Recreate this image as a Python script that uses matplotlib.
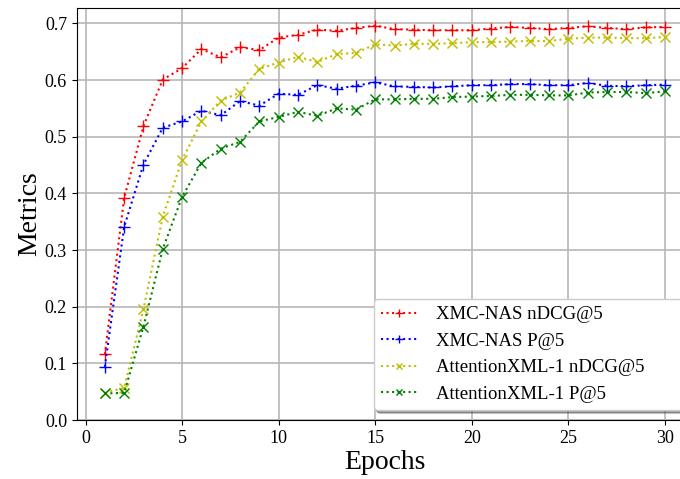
import matplotlib
matplotlib.use('Agg')
import matplotlib.pyplot as plt

# values
epochs = list(range(1, 31))

nas_ndcg = [0.116, 0.392, 0.519, 0.601, 0.621, 0.655, 0.640, 0.658, 0.653, 0.675,
            0.680, 0.689, 0.687, 0.692, 0.696, 0.690, 0.689, 0.688, 0.688, 0.688,
            0.691, 0.694, 0.692, 0.690, 0.692, 0.695, 0.692, 0.690, 0.693, 0.694]
nas_p = [0.094, 0.341, 0.451, 0.516, 0.527, 0.546, 0.538, 0.563, 0.555, 0.576,
         0.574, 0.591, 0.585, 0.590, 0.596, 0.589, 0.588, 0.587, 0.589, 0.591,
         0.591, 0.593, 0.593, 0.591, 0.591, 0.595, 0.590, 0.589, 0.591, 0.592]
attn_ndcg = [0.048, 0.057, 0.196, 0.359, 0.459, 0.527, 0.564, 0.578, 0.620, 0.631,
             0.641, 0.632, 0.646, 0.648, 0.663, 0.661, 0.664, 0.664, 0.665, 0.667,
             0.667, 0.668, 0.669, 0.669, 0.673, 0.675, 0.675, 0.674, 0.674, 0.676]
attn_p = [0.047, 0.048, 0.165, 0.302, 0.394, 0.454, 0.479, 0.491, 0.527, 0.535,
          0.544, 0.537, 0.550, 0.548, 0.566, 0.566, 0.567, 0.567, 0.570, 0.571,
          0.572, 0.574, 0.574, 0.573, 0.573, 0.578, 0.579, 0.579, 0.577, 0.580]

labels = ['XMC-NAS nDCG@5', 'XMC-NAS P@5', 'AttentionXML-1 nDCG@5', 'AttentionXML-1 P@5']

plt.rcParams['font.family'] = ['Liberation Serif', 'DejaVu Serif']

fig = plt.figure(figsize=(6.8, 4.79), dpi=100)
ax = fig.add_axes([0.113, 0.123, 0.906, 0.860])

ax.plot(epochs, nas_ndcg, 'r:+', label=labels[0], markersize=8, linewidth=1.5)
ax.plot(epochs, nas_p, 'b:+', label=labels[1], markersize=8, linewidth=1.5)
ax.plot(epochs, attn_ndcg, 'y:x', label=labels[2], markersize=7, linewidth=1.5)
ax.plot(epochs, attn_p, 'g:x', label=labels[3], markersize=7, linewidth=1.5)

ax.set_xlim(-0.45, 31.45)
ax.set_ylim(0, 0.727)
ax.grid(True, color='#b8b8b8', linewidth=1.2)
ax.set_axisbelow(True)
ax.tick_params(labelsize=13)
ax.set_xlabel('Epochs', fontsize=20, labelpad=2)
ax.set_ylabel('Metrics', fontsize=20, labelpad=2)

# legend box runs off the right edge, as in the original
ax.legend(loc='lower left', bbox_to_anchor=(0.482, 0.024, 0.55, 0.0), mode='expand',
          borderaxespad=0.0, fontsize=13.5, markerscale=0.65, handlelength=1.9,
          handletextpad=1.0, shadow=True, fancybox=True, framealpha=1.0)

plt.savefig('out.png', dpi=100)
plt.close()
